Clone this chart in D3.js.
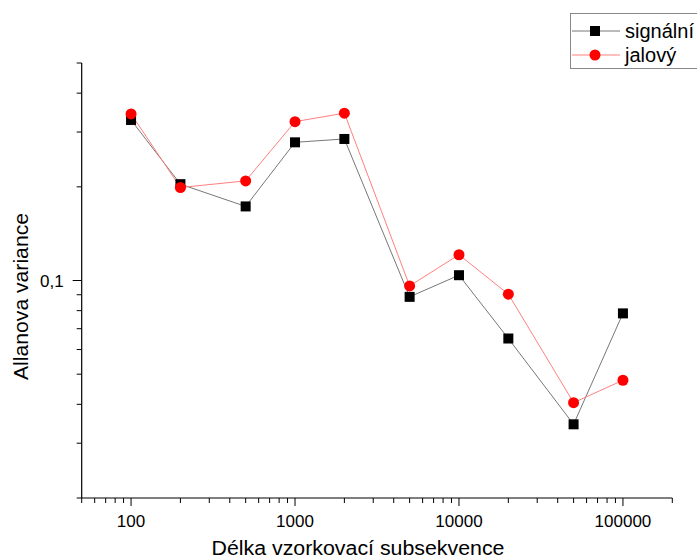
<!DOCTYPE html>
<html>
<head>
<meta charset="utf-8">
<script src="https://cdn.jsdelivr.net/npm/d3@7/dist/d3.min.js"></script>
<style>
  body { margin: 0; background: #fff; }
  svg { display: block; font-family: "Liberation Sans", Arial, sans-serif; }
</style>
</head>
<body>
<svg id="chart" width="697" height="559"></svg>
<script>
// sample lengths (x) and Allan variance for the two series
var lengths = [100, 200, 500, 1000, 2000, 5000, 10000, 20000, 50000, 100000]
var signalni = [0.328, 0.204, 0.173, 0.278, 0.285, 0.0886, 0.104, 0.0651, 0.0345, 0.0784]
var jalovy = [0.343, 0.199, 0.209, 0.324, 0.345, 0.0961, 0.121, 0.0904, 0.0405, 0.0478]
var seriesNames = ["signální", "jalový"]
var xTickLabels = [100, 1000, 10000, 100000]
var yTickLabels = [0.1]

var svg = d3.select("#chart")

var xScale = d3.scaleLog().domain([50, 200000]).range([81.7, 672.3])
var yScale = d3.scaleLog().domain([0.02, 0.5]).range([498, 63])

// x axis
var xMinor = []
for (var p = 1; p <= 5; p++) {
    for (var k = 1; k <= 9; k++) {
        var v = k * Math.pow(10, p)
        if (v >= 50 && v <= 200000) xMinor.push(v)
    }
}
var xg = svg.append("g").attr("transform", "translate(0,498)")
xg.append("line").attr("x1", xScale(50)).attr("x2", xScale(200000))
    .attr("stroke", "#000").attr("stroke-width", 1.2)
xg.selectAll(".xt").data(xMinor).enter().append("line")
    .attr("x1", function (d) { return xScale(d) })
    .attr("x2", function (d) { return xScale(d) })
    .attr("y1", 0)
    .attr("y2", function (d) { return xTickLabels.indexOf(d) >= 0 ? 8 : 5 })
    .attr("stroke", "#000").attr("stroke-width", 1)
xg.selectAll(".xl").data(xTickLabels).enter().append("text")
    .attr("x", function (d) { return xScale(d) })
    .attr("y", 29)
    .attr("text-anchor", "middle")
    .style("font-size", "17px")
    .text(function (d) { return d })

// y axis
var yMinor = [0.02, 0.03, 0.04, 0.05, 0.06, 0.07, 0.08, 0.09, 0.1, 0.2, 0.3, 0.4, 0.5]
var yg = svg.append("g").attr("transform", "translate(81.7,0)")
yg.append("line").attr("y1", yScale(0.02)).attr("y2", yScale(0.5))
    .attr("stroke", "#000").attr("stroke-width", 1.2)
yg.selectAll(".yt").data(yMinor).enter().append("line")
    .attr("y1", function (d) { return yScale(d) })
    .attr("y2", function (d) { return yScale(d) })
    .attr("x1", 0)
    .attr("x2", function (d) { return yTickLabels.indexOf(d) >= 0 ? -9 : -5 })
    .attr("stroke", "#000").attr("stroke-width", 1)
yg.selectAll(".yl").data(yTickLabels).enter().append("text")
    .attr("x", -18)
    .attr("y", function (d) { return yScale(d) + 6 })
    .attr("text-anchor", "end")
    .style("font-size", "17px")
    .text(function (d) { return String(d).replace(".", ",") })

// axis titles
svg.append("text")
    .attr("x", 358).attr("y", 555)
    .attr("text-anchor", "middle")
    .attr("textLength", 293)
    .attr("lengthAdjust", "spacingAndGlyphs")
    .style("font-size", "20px")
    .text("Délka vzorkovací subsekvence")
svg.append("text")
    .attr("transform", "translate(28,296.5) rotate(-90)")
    .attr("text-anchor", "middle")
    .attr("textLength", 167)
    .attr("lengthAdjust", "spacingAndGlyphs")
    .style("font-size", "20px")
    .text("Allanova variance")

var line = d3.line()
    .x(function (d) { return xScale(d[0]) })
    .y(function (d) { return yScale(d[1]) })

var blackData = lengths.map(function (d, i) { return [d, signalni[i]] })
var redData = lengths.map(function (d, i) { return [d, jalovy[i]] })

svg.append("path").datum(blackData).attr("d", line)
    .attr("fill", "none").attr("stroke", "#777").attr("stroke-width", 1)
svg.append("path").datum(redData).attr("d", line)
    .attr("fill", "none").attr("stroke", "#ff8080").attr("stroke-width", 1)

svg.selectAll(".sq").data(blackData).enter().append("rect")
    .attr("x", function (d) { return xScale(d[0]) - 5 })
    .attr("y", function (d) { return yScale(d[1]) - 5 })
    .attr("width", 10).attr("height", 10)
    .attr("fill", "#000")
svg.selectAll(".dot").data(redData).enter().append("circle")
    .attr("cx", function (d) { return xScale(d[0]) })
    .attr("cy", function (d) { return yScale(d[1]) })
    .attr("r", 5.5)
    .attr("fill", "#ff0000")

// legend
var legend = svg.append("g")
legend.append("rect")
    .attr("x", 570.5).attr("y", 13.5)
    .attr("width", 140).attr("height", 55)
    .attr("fill", "#fff").attr("stroke", "#888").attr("stroke-width", 1)
var rows = [
    { name: seriesNames[0], line: "#777", y: 31 },
    { name: seriesNames[1], line: "#ff8080", y: 55 }
]
rows.forEach(function (r, i) {
    legend.append("line").attr("x1", 572).attr("x2", 620)
        .attr("y1", r.y).attr("y2", r.y)
        .attr("stroke", r.line).attr("stroke-width", 1)
    if (i == 0) {
        legend.append("rect").attr("x", 590).attr("y", r.y - 5)
            .attr("width", 10).attr("height", 10).attr("fill", "#000")
    } else {
        legend.append("circle").attr("cx", 595).attr("cy", r.y)
            .attr("r", 5.5).attr("fill", "#ff0000")
    }
    legend.append("text").attr("x", 625).attr("y", r.y + 6.5)
        .style("font-size", "20px")
        .text(r.name)
})
</script>
</body>
</html>
